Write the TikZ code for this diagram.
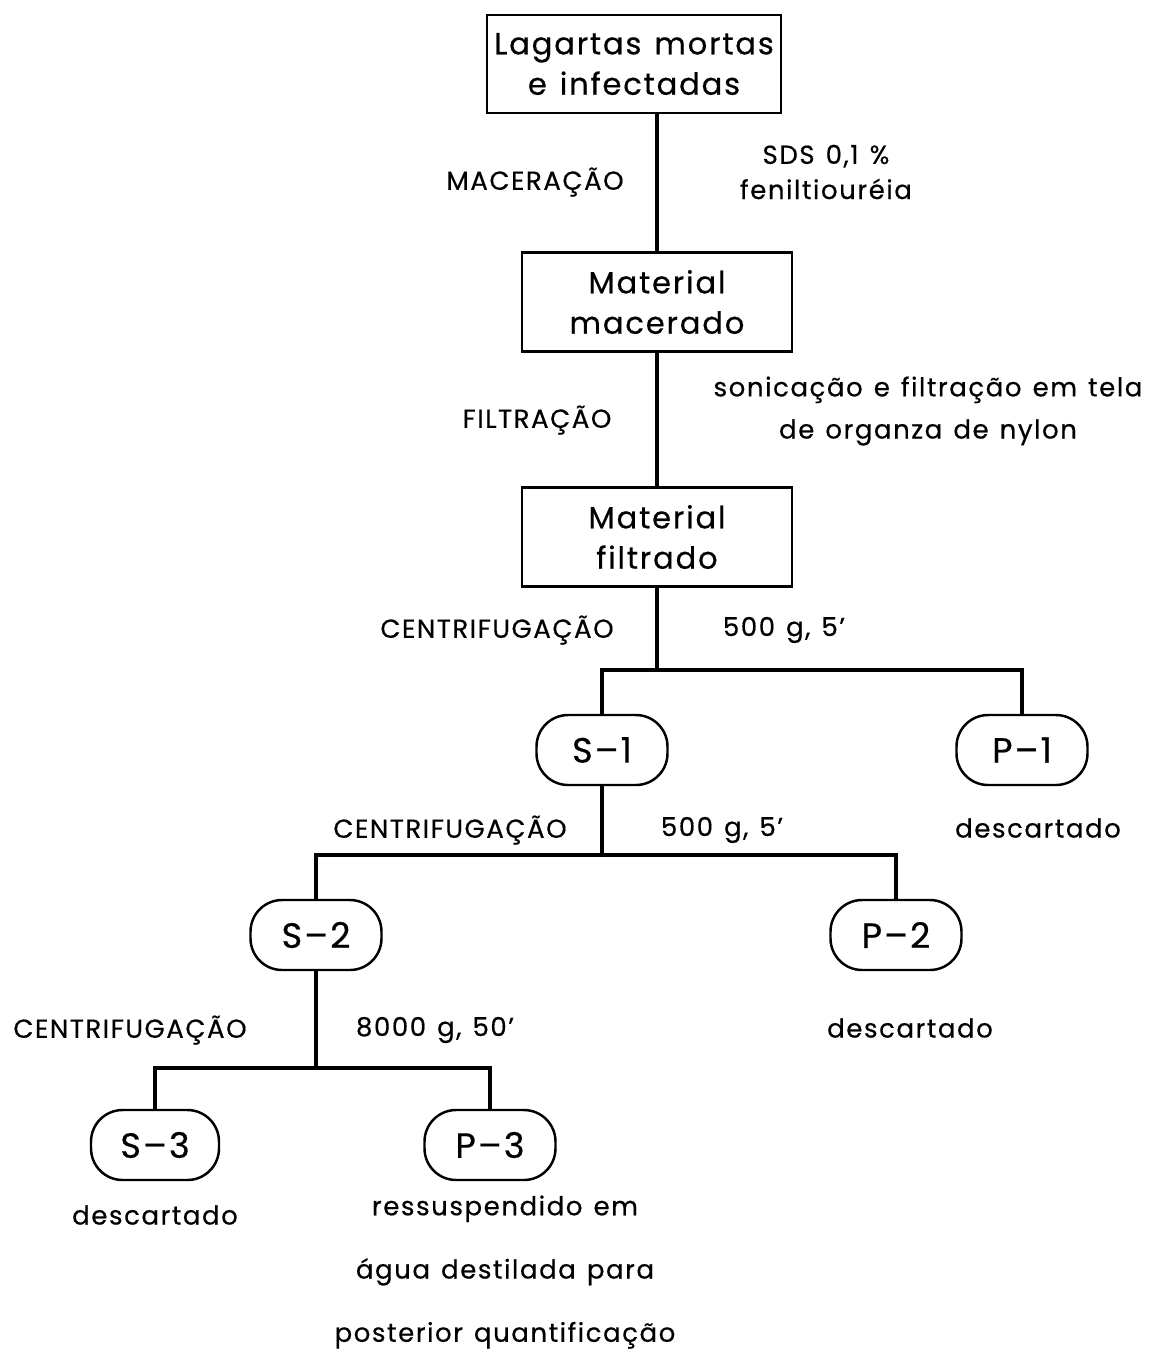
\documentclass[tikz,border=0pt]{standalone}
\usepackage{fontspec}
\setmainfont[LetterSpace=6,WordSpace=1.3,FakeBold=0.5]{Poppins}
\usetikzlibrary{positioning}

\begin{document}
\begin{tikzpicture}[
      box/.style={draw, line width=0.6pt, minimum width=2.7cm, minimum height=0.99cm,
                  inner sep=2pt, font=\fontsize{8.7}{11.5}\selectfont, align=center},
      pill/.style={draw, line width=0.7pt, rounded corners=9pt,
                   minimum width=1.31cm, minimum height=0.70cm,
                   font=\fontsize{10}{12}\selectfont},
      lbl/.style={font=\fontsize{7.4}{10}\selectfont, align=center, inner sep=0pt},
      conn/.style={line width=0.9pt}
    ]
    \useasboundingbox (0,0) rectangle (11.53,-13.53);

    % Material boxes
    \node[box, minimum width=2.92cm, minimum height=0.98cm] (lagartas) at (6.34,-0.64) {Lagartas mortas\\e infectadas};
    \node[box] (macerado) at (6.57,-3.02) {Material\\macerado};
    \node[box] (filtrado) at (6.57,-5.37) {Material\\filtrado};

    \draw[conn] (lagartas.south -| macerado.north) -- (macerado.north);
    \draw[conn] (macerado.south) -- (filtrado.north);

    % Fractions
    \node[pill] (s1) at (6.02,-7.50)  {S--1};
    \node[pill] (p1) at (10.22,-7.50) {P--1};
    \node[pill] (s2) at (3.16,-9.35)  {S--2};
    \node[pill] (p2) at (8.96,-9.35)  {P--2};
    \node[pill, minimum width=1.28cm] (s3) at (1.55,-11.45) {S--3};
    \node[pill] (p3) at (4.90,-11.45) {P--3};

    % Split points
    \coordinate (split1) at (6.57,-6.70);
    \coordinate (split2) at (s1.south |- 0,-8.55);
    \coordinate (split3) at (s2.south |- 0,-10.68);

    \draw[conn] (filtrado.south) -- (split1);
    \draw[conn] (split1) -| (s1.north);
    \draw[conn] (split1) -| (p1.north);
    \draw[conn] (s1.south) -- (split2);
    \draw[conn] (split2) -| (s2.north);
    \draw[conn] (split2) -| (p2.north);
    \draw[conn] (s2.south) -- (split3);
    \draw[conn] (split3) -| (s3.north);
    \draw[conn] (split3) -| (p3.north);

    % Step labels
    \node[lbl] (mac)  at (5.35,-1.82) {MACERAÇÃO};
    \node[lbl, font=\fontsize{7.4}{10}\selectfont] (sds) at (8.26,-1.72) {SDS 0,1 \%\\feniltiouréia};
    \node[lbl] (filt) at (5.37,-4.20) {FILTRAÇÃO};
    \node[lbl, font=\fontsize{7.4}{12}\selectfont] (son) at (9.28,-4.11) {sonicação e filtração em tela\\de organza de nylon};
    \node[lbl] (cent1) at (4.97,-6.30) {CENTRIFUGAÇÃO};
    \node[lbl] (g1)    at (7.84,-6.30) {500 g, 5'};
    \node[lbl] (cent2) at (4.50,-8.30) {CENTRIFUGAÇÃO};
    \node[lbl] (g2)    at (7.22,-8.30) {500 g, 5'};
    \node[lbl] (cent3) at (1.30,-10.30) {CENTRIFUGAÇÃO};
    \node[lbl] (g3)    at (4.35,-10.30) {8000 g, 50'};

    % Fate of the fractions
    \node[lbl] (desc1) at (10.38,-8.28)  {descartado};
    \node[lbl] (desc2) at (9.10,-10.28)  {descartado};
    \node[lbl] (desc3) at (1.55,-12.15)  {descartado};
    \node[lbl, font=\fontsize{7.4}{18}\selectfont] (ress) at (5.05,-12.72)
      {ressuspendido em\\água destilada para\\posterior quantificação};

  \end{tikzpicture}
\end{document}
